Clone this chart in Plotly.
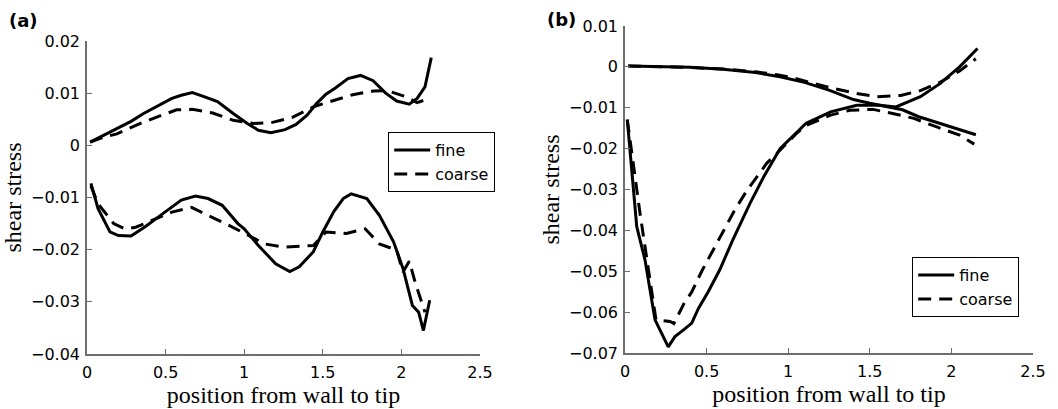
import plotly.graph_objects as go

# ---------------- data: panel (a) ----------------
a_top_fine_x = [0.02, 0.10, 0.19, 0.28, 0.36, 0.45, 0.54, 0.60, 0.67, 0.74, 0.83, 0.93, 1.02, 1.09, 1.17,
                1.26, 1.33, 1.40, 1.46, 1.52, 1.58, 1.66, 1.74, 1.82, 1.90, 1.97, 2.05, 2.10, 2.15, 2.19]
a_top_fine_y = [0.0006, 0.0018, 0.0032, 0.0046, 0.0061, 0.0076, 0.0090, 0.0096, 0.0101, 0.0094, 0.0084,
                0.0061, 0.0042, 0.0029, 0.0024, 0.0030, 0.0040, 0.0058, 0.0080, 0.0098, 0.0110, 0.0128,
                0.0134, 0.0124, 0.0100, 0.0085, 0.0079, 0.0090, 0.0112, 0.0168]

a_top_coarse_x = [0.02, 0.10, 0.19, 0.34, 0.46, 0.57, 0.67, 0.80, 0.93, 1.06, 1.18, 1.31, 1.45, 1.59,
                  1.69, 1.82, 1.91, 2.03, 2.10, 2.16]
a_top_coarse_y = [0.0006, 0.0015, 0.0022, 0.0042, 0.0056, 0.0068, 0.0069, 0.0062, 0.0048, 0.0042, 0.0044,
                  0.0054, 0.0075, 0.0087, 0.0097, 0.0104, 0.0105, 0.0093, 0.0082, 0.0088]

a_bot_fine_x = [0.025, 0.07, 0.146, 0.20, 0.28, 0.37, 0.50, 0.60, 0.69, 0.77, 0.86, 0.96, 1.00, 1.09, 1.20,
                1.26, 1.29, 1.35, 1.44, 1.50, 1.57, 1.63, 1.68, 1.78, 1.86, 1.95, 2.01, 2.07, 2.11, 2.14, 2.18]
a_bot_fine_y = [-0.0073, -0.0121, -0.0166, -0.0173, -0.0174, -0.0156, -0.0127, -0.0105, -0.0097, -0.0102,
                -0.0115, -0.0150, -0.0160, -0.0192, -0.0227, -0.0238, -0.0242, -0.0233, -0.0204, -0.0166,
                -0.0127, -0.0102, -0.0093, -0.0102, -0.0134, -0.0185, -0.0236, -0.0307, -0.0320, -0.0355,
                -0.0297]

a_bot_coarse_x = [0.025, 0.07, 0.17, 0.24, 0.31, 0.41, 0.54, 0.665, 0.77, 0.90, 1.03, 1.13, 1.25, 1.44,
                  1.52, 1.65, 1.77, 1.86, 1.97, 2.01, 2.05, 2.09, 2.15]
a_bot_coarse_y = [-0.0078, -0.0112, -0.0150, -0.0160, -0.0157, -0.0144, -0.0128, -0.0119, -0.0134, -0.0153,
                  -0.0173, -0.0189, -0.0195, -0.0192, -0.0166, -0.0169, -0.0160, -0.0189, -0.0201, -0.0243,
                  -0.0222, -0.0265, -0.0320]

# ---------------- data: panel (b) ----------------
b_fine1_x = [0.02, 0.2, 0.4, 0.6, 0.8, 0.95, 1.1, 1.25, 1.4, 1.5, 1.6, 1.7, 1.8, 1.9, 2.0, 2.15]
b_fine1_y = [0.0002, 0.0001, -0.0001, -0.0006, -0.0014, -0.0024, -0.0038, -0.0057, -0.0080, -0.0089,
             -0.0097, -0.0105, -0.0122, -0.0135, -0.0147, -0.0166]

b_fine2_x = [0.014, 0.072, 0.123, 0.184, 0.265, 0.306, 0.357, 0.409, 0.45, 0.51, 0.58, 0.66, 0.766,
             0.85, 0.95, 1.07, 1.11, 1.26, 1.42, 1.56, 1.66, 1.81, 1.93, 2.05, 2.16]
b_fine2_y = [-0.0129, -0.0391, -0.0473, -0.0619, -0.0685, -0.0660, -0.0644, -0.0627, -0.0591, -0.0550,
             -0.0497, -0.0424, -0.0334, -0.0269, -0.0200, -0.0155, -0.0138, -0.0110, -0.0094, -0.0094,
             -0.0098, -0.0073, -0.0041, 0.0000, 0.0045]

b_coarse1_x = [0.02, 0.3, 0.6, 0.8, 0.93, 1.03, 1.15, 1.28, 1.42, 1.54, 1.69, 1.81, 1.93, 2.05, 2.15]
b_coarse1_y = [0.0002, 0.0, -0.0005, -0.0012, -0.0019, -0.0027, -0.0040, -0.0053, -0.0065, -0.0073,
               -0.0070, -0.0058, -0.0038, -0.0010, 0.0020]

b_coarse2_x = [0.014, 0.092, 0.153, 0.19, 0.276, 0.30, 0.36, 0.41, 0.47, 0.53, 0.59, 0.67, 0.746, 0.807,
               0.868, 0.93, 1.05, 1.11, 1.26, 1.38, 1.52, 1.64, 1.77, 1.91, 2.05, 2.14]
b_coarse2_y = [-0.0129, -0.0358, -0.0521, -0.0619, -0.0623, -0.0628, -0.0580, -0.0550, -0.0500, -0.0455,
               -0.0410, -0.0352, -0.0303, -0.0269, -0.0236, -0.0212, -0.0163, -0.0143, -0.0118, -0.0106,
               -0.0104, -0.0114, -0.0126, -0.0147, -0.0167, -0.0189]

a_yticks = [0.02, 0.01, 0, -0.01, -0.02, -0.03, -0.04]
b_yticks = [0.01, 0, -0.01, -0.02, -0.03, -0.04, -0.05, -0.06, -0.07]
xticks = [0, 0.5, 1, 1.5, 2, 2.5]
xtick_text = ["0", "0.5", "1", "1.5", "2", "2.5"]

def ylabels(vals):
    out = []
    for v in vals:
        if v == 0:
            out.append("0")
        elif v < 0:
            out.append("\u2212" + ("%g" % -v))
        else:
            out.append("%g" % v)
    return out

W, H = 1058, 409
SOLID = "solid"
DASH = "13px,8px"
LW = 3

fig = go.Figure()

def add(x, y, name, dash, xa, ya, legend, show):
    fig.add_trace(go.Scatter(x=x, y=y, mode="lines", name=name,
                             line=dict(color="black", width=LW, dash=dash),
                             xaxis=xa, yaxis=ya, legend=legend, showlegend=show))

add(a_top_fine_x, a_top_fine_y, "fine", SOLID, "x", "y", "legend", True)
add(a_top_coarse_x, a_top_coarse_y, "coarse", DASH, "x", "y", "legend", True)
add(a_bot_fine_x, a_bot_fine_y, "fine", SOLID, "x", "y", "legend", False)
add(a_bot_coarse_x, a_bot_coarse_y, "coarse", DASH, "x", "y", "legend", False)

add(b_fine1_x, b_fine1_y, "fine", SOLID, "x2", "y2", "legend2", True)
add(b_coarse2_x, b_coarse2_y, "coarse", DASH, "x2", "y2", "legend2", True)
add(b_fine2_x, b_fine2_y, "fine", SOLID, "x2", "y2", "legend2", False)
add(b_coarse1_x, b_coarse1_y, "coarse", DASH, "x2", "y2", "legend2", False)

tickfont = dict(family="DejaVu Sans", size=16, color="black")
titlefont = dict(family="Liberation Serif", size=24, color="black")
axcolor = "#6e6e6e"

common_x = dict(range=[0, 2.5], tickvals=xticks, ticktext=xtick_text, showgrid=False, zeroline=False,
                showline=True, linecolor=axcolor, linewidth=1.5, ticks="inside", ticklen=5,
                tickcolor=axcolor, tickwidth=1, mirror=False, tickfont=tickfont,
                title=dict(text="position from wall to tip", font=titlefont, standoff=5),
                ticklabelstandoff=3)
common_y = dict(showgrid=False, zeroline=False, showline=True, linecolor=axcolor, linewidth=1.5,
                ticks="inside", ticklen=5, tickcolor=axcolor, tickwidth=1, mirror=False,
                tickfont=tickfont, ticklabelstandoff=2,
                title=dict(text="shear stress", font=titlefont, standoff=3))

legfont = dict(family="DejaVu Sans", size=16, color="black")

fig.update_layout(
    width=W, height=H, margin=dict(l=0, r=0, t=0, b=0, autoexpand=False),
    paper_bgcolor="white", plot_bgcolor="white",
    xaxis=dict(common_x, domain=[87 / W, 480 / W], anchor="y"),
    yaxis=dict(common_y, domain=[(H - 354) / H, (H - 41) / H], anchor="x", range=[-0.04, 0.02],
               tickvals=a_yticks, ticktext=ylabels(a_yticks)),
    xaxis2=dict(common_x, domain=[625 / W, 1033 / W], anchor="y2"),
    yaxis2=dict(common_y, domain=[(H - 353) / H, (H - 26) / H], anchor="x2", range=[-0.07, 0.01],
                tickvals=b_yticks, ticktext=ylabels(b_yticks)),
    legend=dict(x=388 / W, y=1 - 132 / H, xanchor="left", yanchor="top", bgcolor="white",
                bordercolor="black", borderwidth=1.2, font=legfont,
                tracegroupgap=0, itemwidth=36),
    legend2=dict(x=912 / W, y=1 - 257 / H, xanchor="left", yanchor="top", bgcolor="white",
                 bordercolor="black", borderwidth=1.2, font=legfont,
                 tracegroupgap=0, itemwidth=36),
    annotations=[
        dict(text="<b>(a)</b>", x=7 / W, y=1 - 20 / H, xref="paper", yref="paper", xanchor="left",
             yanchor="middle", showarrow=False, font=dict(family="DejaVu Sans", size=18, color="black")),
        dict(text="<b>(b)</b>", x=545 / W, y=1 - 19 / H, xref="paper", yref="paper", xanchor="left",
             yanchor="middle", showarrow=False, font=dict(family="DejaVu Sans", size=18, color="black")),
    ],
)

fig.write_html("out.html")
